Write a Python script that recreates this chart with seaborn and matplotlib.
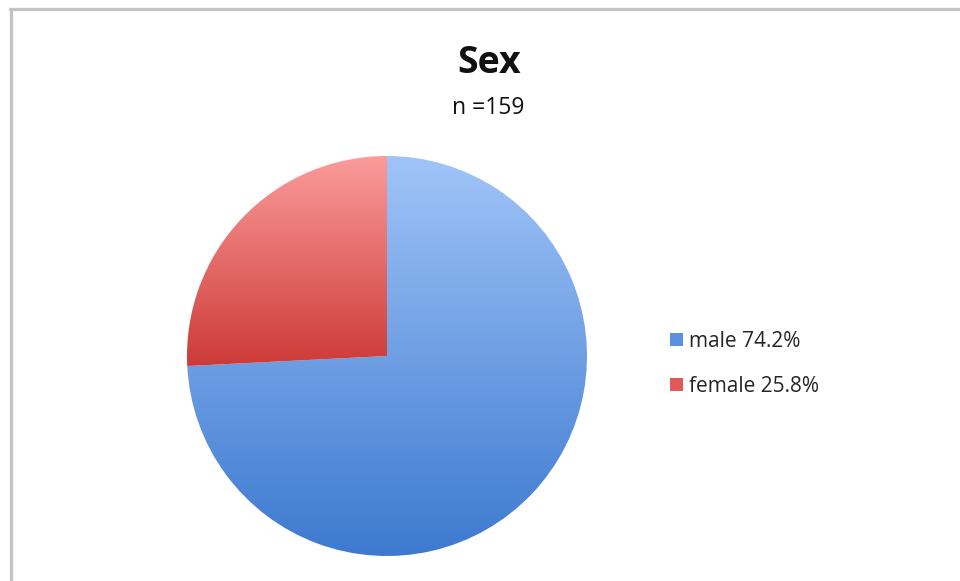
import numpy as np
import matplotlib
matplotlib.use("Agg")
import matplotlib.pyplot as plt
from matplotlib.patches import Patch
from matplotlib.colors import LinearSegmentedColormap
import seaborn as sns

# ---- data ----
categories = ["male", "female"]
percent = [74.2, 25.8]
n_total = 159
title = "Sex"
subtitle = "n =159"
top_colors = ["#a0c4f8", "#fb9c9c"]
bottom_colors = ["#3c79cf", "#cd3b37"]
legend_colors = ["#5b8fe0", "#e05a58"]

sns.set_theme(style="white")
plt.rcParams["font.family"] = ["Open Sans", "DejaVu Sans"]

W, H = 960, 581
fig = plt.figure(figsize=(W / 100, H / 100), dpi=100)
fig.patch.set_facecolor("white")

# frame (top and left visible)
fig.add_artist(plt.Line2D([10 / W, 1.0], [1 - 8.5 / H, 1 - 8.5 / H], transform=fig.transFigure,
                          color="#c4c4c4", lw=2.4))
fig.add_artist(plt.Line2D([10.5 / W, 10.5 / W], [0, 1 - 8.5 / H], transform=fig.transFigure,
                          color="#c4c4c4", lw=2.4))

cx, cy, r = 387, 356, 200
ax = fig.add_axes([(cx - r) / W, (H - cy - r) / H, 2 * r / W, 2 * r / H])
wedges, _ = ax.pie(percent, startangle=90, counterclock=False, radius=1.0,
                   wedgeprops=dict(linewidth=0))
ax.set_xlim(-1, 1)
ax.set_ylim(-1, 1)
ax.set_aspect("equal")
ax.axis("off")

for w, tc, bc in zip(wedges, top_colors, bottom_colors):
    verts = w.get_path().vertices
    xs, ys = verts[:, 0], verts[:, 1]
    y0, y1 = ys.min(), ys.max()
    x0, x1 = xs.min(), xs.max()
    cmap = LinearSegmentedColormap.from_list("g", [bc, tc])
    grad = np.linspace(0, 1, 256).reshape(-1, 1)
    im = ax.imshow(grad, cmap=cmap, origin="lower", extent=[x0, x1, y0, y1],
                   aspect="auto", interpolation="bilinear", zorder=w.get_zorder())
    im.set_clip_path(w)
    w.set_facecolor("none")
ax.set_xlim(-1, 1)
ax.set_ylim(-1, 1)

fig.text(489 / W, 1 - 63 / H, title, ha="center", va="center", fontsize=27,
         fontweight="bold", color="#111111")
fig.text(488 / W, 1 - 108 / H, subtitle, ha="center", va="center", fontsize=16.5,
         color="#111111")

handles = [Patch(facecolor=c, edgecolor="none") for c in legend_colors]
labels = [f"{c} {p}%" for c, p in zip(categories, percent)]
fig.legend(handles, labels, loc="center left", bbox_to_anchor=(662 / W, 1 - 364 / H),
           frameon=False, fontsize=15, handlelength=0.6, handleheight=0.6,
           handletextpad=0.3, labelspacing=1.15, borderaxespad=0)

fig.savefig("out.png", dpi=100, facecolor="white")
